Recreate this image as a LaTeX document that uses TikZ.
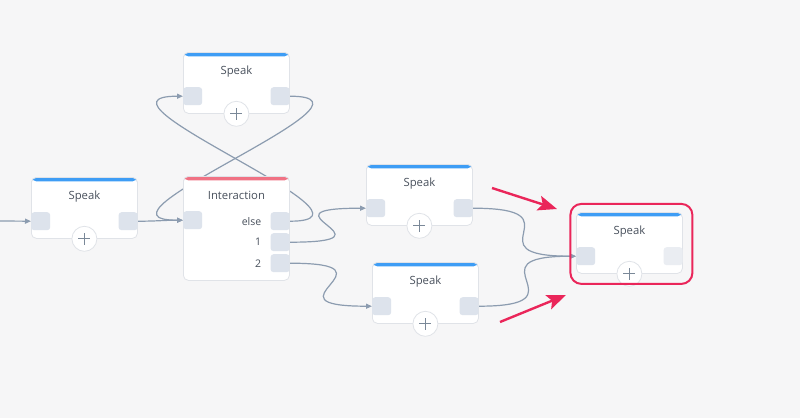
\documentclass[tikz,border=0pt]{standalone}
\usepackage{fontspec}
\setmainfont{Open Sans}
\usetikzlibrary{arrows.meta,calc}

\definecolor{canvas}{RGB}{246,246,247}
\definecolor{rim}{RGB}{224,227,232}
\definecolor{ink}{RGB}{72,80,92}
\definecolor{speakblue}{RGB}{62,157,245}
\definecolor{askred}{RGB}{240,114,132}
\definecolor{portfill}{RGB}{221,227,236}
\definecolor{portfade}{RGB}{234,237,242}
\definecolor{wire}{RGB}{140,156,176}
\definecolor{plusgray}{RGB}{122,136,152}
\definecolor{alert}{RGB}{234,38,90}

\pgfdeclarelayer{bg}
\pgfdeclarelayer{links}
\pgfsetlayers{bg,links,main}

\begin{document}
\begin{tikzpicture}[x=1pt,y=-1pt,>={Triangle[length=6pt,width=5pt]},
                    font=\fontsize{11.3}{13}\selectfont,text=ink]
  \tikzstyle{box}=[rectangle,anchor=north west,minimum width=106pt,
                   minimum height=61pt,inner sep=0pt,rounded corners=5pt,
                   fill=white,draw=rim,line width=0.8pt]
  \tikzstyle{speak}=[box,path picture={\fill[speakblue]
      (path picture bounding box.north west) rectangle
      ([yshift=-4pt]path picture bounding box.north east);}]
  \tikzstyle{ask}=[box,path picture={\fill[askred]
      (path picture bounding box.north west) rectangle
      ([yshift=-4pt]path picture bounding box.north east);}]
  \tikzstyle{port}=[rectangle,rounded corners=3pt,fill=portfill,
                    minimum width=19pt,minimum height=18pt,inner sep=0pt]
  \tikzstyle{add}=[circle,minimum size=25pt,inner sep=0pt,fill=white,
                   draw=rim,line width=0.8pt,path picture={\draw[plusgray,line width=1.3pt]
      ([xshift=-6pt]path picture bounding box.center) --
      ([xshift=6pt]path picture bounding box.center)
      ([yshift=-6pt]path picture bounding box.center) --
      ([yshift=6pt]path picture bounding box.center);}]
  \tikzstyle{tag}=[font=\fontsize{10.5}{12}\selectfont,inner sep=0pt,anchor=east]
  \tikzstyle{link}=[draw=wire,line width=1.2pt]
  \tikzstyle{hilite}=[rectangle,rounded corners=11pt,draw=alert,line width=2pt,
                      minimum width=122pt,minimum height=80pt]
  \tikzstyle{pointer}=[alert,line width=2.4pt,
                       -{Stealth[length=19pt,width=15pt,inset=4pt]}]

  \begin{pgfonlayer}{bg}
    \fill[canvas] (0,0) rectangle (800,418);
  \end{pgfonlayer}
  \useasboundingbox (0,0) rectangle (800,418);

  % speak blocks
  \foreach \n/\x/\y/\shade in {s0/31/177/portfill,s1/183/52/portfill,
      s2/366/164/portfill,s3/372/262/portfill,s4/576/212/portfade}{
    \node[speak] (\n) at (\x,\y) {};
    \node (\n-title) at ([yshift=-20pt]\n.north) {Speak};
    \node[port,anchor=north west] (\n-in) at ([yshift=-35pt]\n.north west) {};
    \node[port,anchor=north east,fill=\shade] (\n-out) at ([yshift=-35pt]\n.north east) {};
    \node[add] (\n-add) at (\n.south) {};
  }

  % interaction block
  \node[ask,minimum height=104pt] (ia) at (183,176) {};
  \node (ia-title) at ([yshift=-19pt]ia.north) {Interaction};
  \node[port,anchor=north west] (ia-in)   at ([yshift=-35pt]ia.north west) {};
  \node[port,anchor=north east] (ia-else) at ([yshift=-36pt]ia.north east) {};
  \node[port,anchor=north east] (ia-one)  at ([yshift=-57pt]ia.north east) {};
  \node[port,anchor=north east] (ia-two)  at ([yshift=-78pt]ia.north east) {};
  \node[tag] (ia-else-tag) at ([xshift=-9pt]ia-else.west) {else};
  \node[tag] (ia-one-tag)  at ([xshift=-9pt]ia-one.west)  {1};
  \node[tag] (ia-two-tag)  at ([xshift=-9pt]ia-two.west)  {2};

  \coordinate (entry) at (0,221);

  \begin{pgfonlayer}{links}
    \draw[link,->] (entry) -- (s0-in.west);
    \draw[link,->] (s0-out.east) .. controls +(20,0) and +(-20,0) .. (ia-in.west);
    \draw[link,->] (ia-else.east) .. controls +(110,0) and +(-110,0) .. (s1-in.west);
    \draw[link,->] (s1-out.east) .. controls +(110,0) and +(-110,0) .. (ia-in.west);
    \draw[link,->] (ia-one.east) .. controls +(115,0) and +(-115,0) .. (s2-in.west);
    \draw[link,->] (ia-two.east) .. controls +(115,0) and +(-115,0) .. (s3-in.west);
    \draw[link,->] (s2-out.east) .. controls +(110,0) and +(-110,0) .. (s4-in.west);
    \draw[link,->] (s3-out.east) .. controls +(110,0) and +(-110,0) .. (s4-in.west);
  \end{pgfonlayer}

  % highlight
  \node[hilite] (focus) at ($(s4.center)+(2,1)$) {};
  \coordinate (cue1) at (492,188);
  \coordinate (cue1-tip) at (557,209);
  \coordinate (cue2) at (500,322);
  \coordinate (cue2-tip) at (566,295);
  \draw[pointer] (cue1) -- (cue1-tip);
  \draw[pointer] (cue2) -- (cue2-tip);
\end{tikzpicture}
\end{document}
